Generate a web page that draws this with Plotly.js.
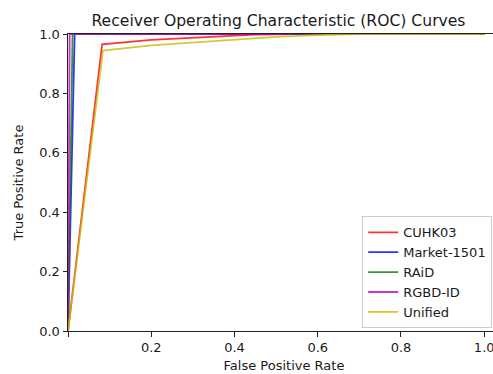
<!DOCTYPE html>
<html>
<head>
<meta charset="utf-8">
<script src="https://cdn.plot.ly/plotly-3.0.1.min.js"></script>
<style>
html,body{margin:0;padding:0;overflow:hidden;background:#fff;}
#chart{width:500px;height:374px;}
</style>
</head>
<body>
<div id="chart"></div>
<script>
// Data
const seriesNames = ["CUHK03", "Market-1501", "RAiD", "RGBD-ID", "Unified"];
const cuhk03FPR = [0, 0.082, 0.2, 0.3, 0.45, 0.55, 1.0];
const cuhk03TPR = [0, 0.965, 0.980, 0.988, 0.998, 1.0, 1.0];
const marketFPR = [0, 0.016, 1.0];
const marketTPR = [0, 1.0, 1.0];
const raidFPR = [0, 0.011, 1.0];
const raidTPR = [0, 1.0, 1.0];
const rgbdFPR = [0, 0.004, 1.0];
const rgbdTPR = [0, 1.0, 1.0];
const unifiedFPR = [0, 0.084, 0.2, 0.3, 0.4, 0.5, 0.6, 0.7, 1.0];
const unifiedTPR = [0, 0.944, 0.962, 0.972, 0.982, 0.990, 0.996, 1.0, 1.0];
const xTickVals = [0, 0.2, 0.4, 0.6, 0.8, 1.0];
const xTickText = ["", "0.2", "0.4", "0.6", "0.8", "1.0"];
const yTickVals = [0, 0.2, 0.4, 0.6, 0.8, 1.0];
const yTickText = ["0.0", "0.2", "0.4", "0.6", "0.8", "1.0"];

const colors = ["rgba(255,0,0,0.8)", "rgba(0,0,255,0.8)", "rgba(0,128,0,0.8)", "rgba(191,0,191,0.8)", "rgba(191,191,0,0.8)"];
const xs = [cuhk03FPR, marketFPR, raidFPR, rgbdFPR, unifiedFPR];
const ys = [cuhk03TPR, marketTPR, raidTPR, rgbdTPR, unifiedTPR];

const traces = seriesNames.map((n, i) => ({
  x: xs[i], y: ys[i], name: n, type: "scatter", mode: "lines",
  line: {color: colors[i], width: 1.8}
}));

const font = {family: "DejaVu Sans", size: 13, color: "#1a1a1a"};
const layout = {
  width: 500, height: 374,
  margin: {l: 67.7, r: 0, t: 34, b: 43},
  paper_bgcolor: "#fff", plot_bgcolor: "#fff",
  font: font,
  showlegend: true,
  title: {text: "Receiver Operating Characteristic (ROC) Curves", font: {family: "DejaVu Sans", size: 15.6, color: "#1a1a1a"}, x: 0.557, xanchor: "center", y: 0.945, yanchor: "middle"},
  xaxis: {
    range: [0, (500 - 67.7) / 416.5], tickvals: xTickVals, ticktext: xTickText,
    showgrid: false, zeroline: false, showline: true, linecolor: "#222", linewidth: 1, mirror: true,
    ticks: "outside", ticklen: 4.5, tickcolor: "#222", tickfont: font,
    title: {text: "False Positive Rate", font: font, standoff: 6}
  },
  yaxis: {
    range: [0, 1], tickvals: yTickVals, ticktext: yTickText,
    showgrid: false, zeroline: false, showline: true, linecolor: "#222", linewidth: 1, mirror: true,
    ticks: "outside", ticklen: 4.5, tickcolor: "#222", tickfont: font,
    title: {text: "True Positive Rate", font: font, standoff: 12}
  },
  legend: {
    x: 0.681, y: 0.386, xanchor: "left", yanchor: "top",
    bgcolor: "rgba(255,255,255,0.8)", bordercolor: "#cccccc", borderwidth: 1,
    font: font, itemwidth: 30, tracegroupgap: 0
  }
};

Plotly.newPlot("chart", traces, layout, {displayModeBar: false, staticPlot: true});
</script>
</body>
</html>
